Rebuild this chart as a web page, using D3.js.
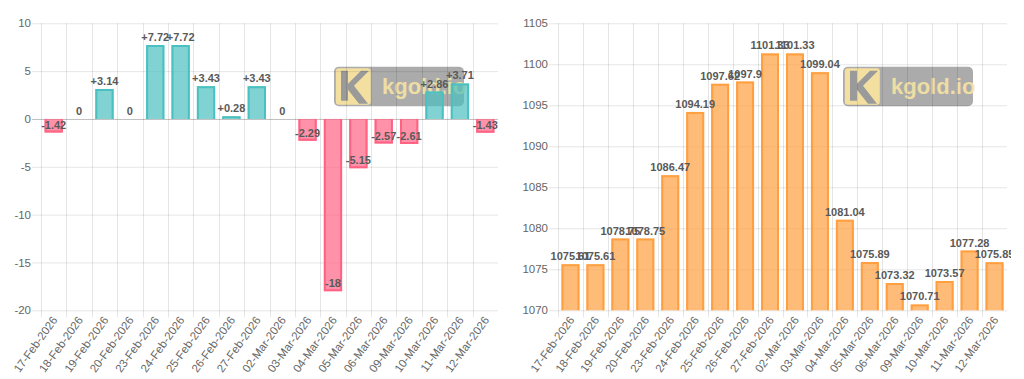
<!DOCTYPE html>
<html>
<head>
<meta charset="utf-8">
<script src="https://cdn.jsdelivr.net/npm/d3@7"></script>
<style>
  html, body { margin: 0; padding: 0; background: #fff; }
  svg { display: block; font-family: "Liberation Sans", Arial, sans-serif; }
</style>
</head>
<body>
<svg width="1024" height="379"></svg>
<script>
var dates = ["17-Feb-2026", "18-Feb-2026", "19-Feb-2026", "20-Feb-2026", "23-Feb-2026",
  "24-Feb-2026", "25-Feb-2026", "26-Feb-2026", "27-Feb-2026", "02-Mar-2026",
  "03-Mar-2026", "04-Mar-2026", "05-Mar-2026", "06-Mar-2026", "09-Mar-2026",
  "10-Mar-2026", "11-Mar-2026", "12-Mar-2026"];

var changes = [-1.42, 0, 3.14, 0, 7.72, 7.72, 3.43, 0.28, 3.43, 0,
  -2.29, -18, -5.15, -2.57, -2.61, 2.86, 3.71, -1.43];

var prices = [1075.61, 1075.61, 1078.75, 1078.75, 1086.47, 1094.19, 1097.62, 1097.9, 1101.33, 1101.33,
  1099.04, 1081.04, 1075.89, 1073.32, 1070.71, 1073.57, 1077.28, 1075.85];

var changeTicks = [-20, -15, -10, -5, 0, 5, 10];
var priceTicks = [1070, 1075, 1080, 1085, 1090, 1095, 1100, 1105];

var svg = d3.select("svg");
var grid = "rgba(0,0,0,0.1)";

function drawChart(o) {
  var g = svg.append("g").attr("transform", "translate(" + o.ox + ",0)");
  var top = 23.3, bottom = 310.3;

  var x = d3.scaleBand().domain(dates).range([o.left, o.right]).padding(0);
  var y = d3.scaleLinear().domain(o.domain).range([bottom, top]);
  var bw = x.bandwidth();

  // watermark sits behind everything
  var wm = g.append("g").attr("transform", "translate(334,66.7)");
  wm.append("rect").attr("width", 130).attr("height", 39.5).attr("rx", 5)
    .attr("fill", "#8a8a8a").attr("opacity", 0.72);
  wm.append("rect").attr("x", 1.8).attr("y", 1.6).attr("width", 35).attr("height", 36.5).attr("rx", 3)
    .attr("fill", "#fbe6a0").attr("opacity", 0.9);
  wm.append("path")
    .attr("d", "M7,4 L14,4 L14,17 L27,4 L35,4 L20,19 L34,37 L25,37 L14,23 L14,34 L7,34 Z")
    .attr("fill", "#9a9a9a");
  wm.append("text").attr("x", 48).attr("y", 27.5)
    .attr("font-size", 22).attr("font-weight", "bold")
    .attr("fill", "#f6e4a4").attr("opacity", 0.9)
    .text("kgold.io");

  // horizontal grid lines (with small tick marks on the left)
  g.append("g").selectAll("line").data(o.ticks).enter().append("line")
    .attr("x1", o.left - 9).attr("x2", o.right)
    .attr("y1", function(d) { return y(d) + 0.5; })
    .attr("y2", function(d) { return y(d) + 0.5; })
    .attr("stroke", function(d) { return d === 0 ? "rgba(0,0,0,0.25)" : grid; });

  // vertical grid lines at category edges
  g.append("g").selectAll("line").data(dates).enter().append("line")
    .attr("x1", function(d) { return Math.round(x(d)) + 0.5; })
    .attr("x2", function(d) { return Math.round(x(d)) + 0.5; })
    .attr("y1", top).attr("y2", bottom + 7)
    .attr("stroke", grid);

  // y axis labels
  var ya = g.append("g").attr("transform", "translate(" + o.left + ",0)")
    .call(d3.axisLeft(y).tickValues(o.ticks).tickFormat(function(d) { return String(d); })
      .tickSize(0).tickPadding(10));
  ya.select(".domain").remove();
  ya.selectAll("text").attr("font-size", 11.5).attr("fill", "#666")
    .attr("font-family", "Liberation Sans, Arial, sans-serif");

  // x axis labels, rotated
  var xa = g.append("g").attr("transform", "translate(0," + (bottom + 9) + ")")
    .call(d3.axisBottom(x).tickSize(0).tickPadding(0));
  xa.select(".domain").remove();
  xa.selectAll("text")
    .attr("font-size", 11.5).attr("fill", "#666")
    .attr("font-family", "Liberation Sans, Arial, sans-serif")
    .attr("x", 2).attr("y", 0).attr("dy", "0.35em")
    .attr("text-anchor", "end")
    .attr("transform", "rotate(-54)");

  // bars
  var base = o.base;
  var bars = g.append("g").selectAll("g").data(o.values).enter().append("g");
  var bx = function(i) { return x(dates[i]) + bw * 0.14; };
  var bwid = bw * 0.72;
  bars.append("rect")
    .attr("x", function(d, i) { return bx(i); })
    .attr("width", bwid)
    .attr("y", function(d) { return Math.min(y(d), y(base)); })
    .attr("height", function(d) { return Math.abs(y(d) - y(base)); })
    .attr("fill", function(d) { return o.fill(d); });
  bars.append("path")
    .attr("d", function(d, i) {
      var x0 = bx(i) + 1, x1 = bx(i) + bwid - 1, yb = y(base), ye = y(d);
      if (d === base) return "";
      ye = ye < yb ? ye + 1 : ye - 1;
      return "M" + x0 + "," + yb + "L" + x0 + "," + ye + "L" + x1 + "," + ye + "L" + x1 + "," + yb;
    })
    .attr("fill", "none")
    .attr("stroke", function(d) { return o.stroke(d); })
    .attr("stroke-width", 2);

  // value labels
  var clipId = "clip" + o.ox;
  g.append("clipPath").attr("id", clipId).append("rect")
    .attr("x", 0).attr("y", 0).attr("width", o.clip).attr("height", 379);
  g.append("g").attr("clip-path", "url(#" + clipId + ")")
    .selectAll("text").data(o.values).enter().append("text")
    .attr("x", function(d, i) { return x(dates[i]) + bw / 2; })
    .attr("y", function(d) { return y(d) - 4; })
    .attr("text-anchor", "middle")
    .attr("font-size", 11).attr("font-weight", "bold")
    .attr("fill", "#595959")
    .text(o.format);
}

drawChart({
  ox: 0, left: 41, right: 498, clip: 499,
  domain: [-20, 10], ticks: changeTicks, values: changes, base: 0,
  fill: function(d) { return d < 0 ? "rgba(255,99,132,0.7)" : "rgba(75,192,192,0.7)"; },
  stroke: function(d) { return d < 0 ? "rgb(255,99,132)" : "rgb(75,192,192)"; },
  format: function(d) { return d > 0 ? "+" + d : String(d); }
});

drawChart({
  ox: 509, left: 49, right: 498, clip: 502,
  domain: [1070, 1105], ticks: priceTicks, values: prices, base: 1070,
  fill: function() { return "rgba(255,159,64,0.7)"; },
  stroke: function() { return "rgb(255,159,64)"; },
  format: function(d) { return String(d); }
});
</script>
</body>
</html>
